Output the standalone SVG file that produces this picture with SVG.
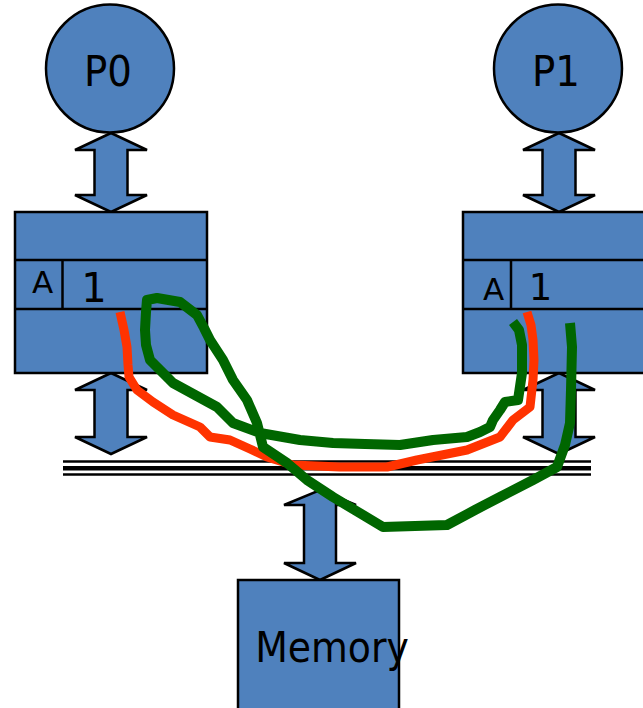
<svg xmlns="http://www.w3.org/2000/svg" width="643" height="708" viewBox="0 0 643 708">
<style>
.shape{fill:#4F81BD;stroke:#000;stroke-width:2.5}
.big{font-family:"DejaVu Sans Condensed","DejaVu Sans",sans-serif;fill:#000;text-anchor:middle}
.cell{font-family:"DejaVu Sans","Liberation Sans",sans-serif;fill:#000;text-anchor:middle}
.sep{stroke:#000;stroke-width:2.5}
.bus{stroke:#000;fill:none}
.ink{fill:none;stroke-linecap:butt;stroke-linejoin:round}
</style>
<rect width="643" height="708" fill="#fff"/>
<g id="connectors">
  <polygon class="shape" points="111,133 147,150 127.5,150 127.5,195 147,195 111,212 75,195 94.5,195 94.5,150 75,150"/>
  <polygon class="shape" points="559,133 595,150 575.5,150 575.5,195 595,195 559,212 523,195 542.5,195 542.5,150 523,150"/>
  <polygon class="shape" points="111,373 147,390 127.5,390 127.5,437 147,437 111,454 75,437 94.5,437 94.5,390 75,390"/>
  <polygon class="shape" points="559,373 595,390 575.5,390 575.5,437 595,437 559,454 523,437 542.5,437 542.5,390 523,390"/>
  <polygon class="shape" points="320,490 356,505 336,505 336,563 356,563 320,580 284,563 304,563 304,505 284,505"/>
</g>
<g id="bus">
  <line class="bus" x1="63" y1="461.5" x2="591" y2="461.5" stroke-width="2.5"/>
  <line class="bus" x1="63" y1="468.3" x2="591" y2="468.3" stroke-width="4.5"/>
  <line class="bus" x1="63" y1="474.5" x2="591" y2="474.5" stroke-width="2.5"/>
</g>
<g id="p0">
  <circle class="shape" cx="110" cy="68.5" r="64"/>
  <text class="big" x="108" y="86" font-size="43">P0</text>
</g>
<g id="p1">
  <circle class="shape" cx="558" cy="68.5" r="64"/>
  <text class="big" x="556" y="86" font-size="43">P1</text>
</g>
<g id="cache0">
  <rect class="shape" x="15" y="212" width="192" height="161"/>
  <line class="sep" x1="15" y1="260" x2="207" y2="260"/>
  <line class="sep" x1="15" y1="309" x2="207" y2="309"/>
  <line class="sep" x1="62.5" y1="260" x2="62.5" y2="309"/>
  <text class="cell" x="42.5" y="293" font-size="31">A</text>
  <text class="cell" x="94" y="302" font-size="40">1</text>
</g>
<g id="cache1">
  <rect class="shape" x="463" y="212" width="192" height="161"/>
  <line class="sep" x1="463" y1="260" x2="655" y2="260"/>
  <line class="sep" x1="463" y1="309" x2="655" y2="309"/>
  <line class="sep" x1="511" y1="260" x2="511" y2="309"/>
  <text class="cell" x="493.5" y="300" font-size="31">A</text>
  <text class="cell" x="540.5" y="300" font-size="37">1</text>
</g>
<g id="memory">
  <rect class="shape" x="238" y="580" width="161" height="140"/>
  <text class="big" x="332" y="662" font-size="42">Memory</text>
</g>
<g id="annotations">
  <polyline class="ink" stroke="#FF3300" stroke-width="9" points="120,312 124,330 127,347 128,365 129,377 137,390 153,402 173,415 200,427 210,437 230,440 250,449 267,457 293,465 340,467 387,467 417,460 467,450 500,437 513,420 530,407 533,380 534,360 533,340 531,325 527,312"/>
  <polyline class="ink" stroke="#006600" stroke-width="10" points="513,322 519,330 522,345 522,373 518,400 505,402 500,410 493,420 490,427 480,432 467,437 433,440 400,445 365,444 333,443 300,440 260,433 233,423 217,407 195,395 173,383 160,370 150,360 146,345 145,330 146,312 147,300 157,298 180,302 197,315 204,328 210,340 223,360 233,380 247,400 257,423 263,447 287,463 307,480 333,497 358,512 383,527 415,526 447,525 475,510 500,497 533,480 557,467 565,445 570,423 571,390 572,347 570,323"/>
</g>
</svg>
